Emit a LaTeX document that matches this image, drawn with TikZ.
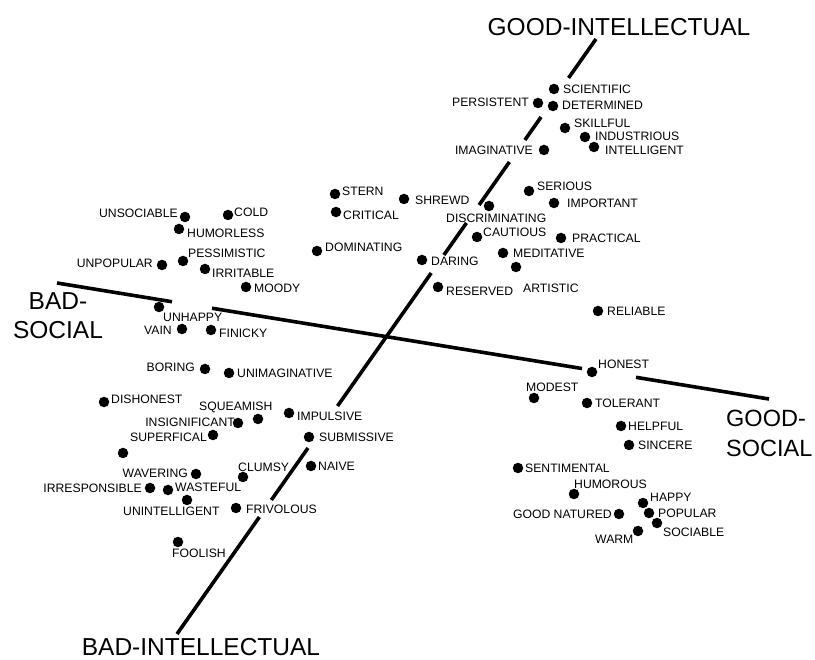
\documentclass[tikz,border=0pt]{standalone}
\usepackage{fontspec}
\setmainfont{Liberation Sans}
\usetikzlibrary{calc}
\begin{document}
\begin{tikzpicture}[x=1pt,y=-1pt,
  dot/.style={circle,fill=black,inner sep=0pt,minimum size=10.5pt},
  lbl/.style={inner sep=0pt,font=\fontsize{12.2}{14}\selectfont},
  big/.style={inner sep=0pt,font=\fontsize{24.5}{29.5}\selectfont},
  axis/.style={line width=3.6pt}]
\useasboundingbox[fill=white] (0,0) rectangle (815,660);
% axes
\coordinate (GI) at (596,39);
\coordinate (BI) at (177,634);
\coordinate (BS) at (57,283);
\coordinate (GS) at (769,399);
\foreach \a/\b in {0/0.0655,0.1311/0.1697,0.2067/0.2790,0.3092/0.3630,0.3933/0.6168,0.6874/0.7748,0.8034/1}
  \draw[axis] ($(GI)!\a!(BI)$) -- ($(GI)!\b!(BI)$);
\foreach \a/\b in {0/0.1615,0.2177/0.7374,0.8132/1}
  \draw[axis] ($(BS)!\a!(GS)$) -- ($(BS)!\b!(GS)$);
% axis labels
\node[big] (gi) at (619,27) {GOOD-INTELLECTUAL};
\node[big] (bi) at (201,647) {BAD-INTELLECTUAL};
\node[big,align=center,anchor=north] (bs) at (58,292) {BAD-\\SOCIAL};
\node[big,font=\fontsize{23.5}{29.5}\selectfont,align=left,anchor=north west] (gs) at (726,410) {GOOD-\\SOCIAL};
% traits
\node[dot] (scientific) at (554,89) {};   \node[lbl,anchor=west] at (563,89) {SCIENTIFIC};
\node[dot] (persistent) at (538,103) {};  \node[lbl,anchor=east] at (529,102) {PERSISTENT};
\node[dot] (determined) at (553,106) {};  \node[lbl,anchor=west] at (562,105) {DETERMINED};
\node[dot] (skillful) at (565,128) {};    \node[lbl,anchor=west] at (574,123) {SKILLFUL};
\node[dot] (industrious) at (585,137) {}; \node[lbl,anchor=west] at (595,136) {INDUSTRIOUS};
\node[dot] (intelligent) at (594,147) {}; \node[lbl,anchor=west] at (605,150) {INTELLIGENT};
\node[dot] (imaginative) at (544,150) {}; \node[lbl,anchor=east] at (533,150) {IMAGINATIVE};
\node[dot] (stern) at (335,194) {};       \node[lbl,anchor=west] at (342,191) {STERN};
\node[dot] (shrewd) at (404,199) {};      \node[lbl,anchor=west] at (415,200) {SHREWD};
\node[dot] (critical) at (336,212) {};    \node[lbl,anchor=west] at (343,215) {CRITICAL};
\node[dot] (discriminating) at (489,206) {}; \node[lbl,anchor=west] at (446,218) {DISCRIMINATING};
\node[dot] (serious) at (529,191) {};     \node[lbl,anchor=west] at (537,186) {SERIOUS};
\node[dot] (important) at (554,203) {};   \node[lbl,anchor=west] at (567,203) {IMPORTANT};
\node[dot] (cautious) at (477,237) {};    \node[lbl,anchor=west] at (483,232) {CAUTIOUS};
\node[dot] (practical) at (561,238) {};   \node[lbl,anchor=west] at (572,238) {PRACTICAL};
\node[dot] (dominating) at (317,251) {};  \node[lbl,anchor=west] at (325,247) {DOMINATING};
\node[dot] (meditative) at (503,253) {};  \node[lbl,anchor=west] at (513,253) {MEDITATIVE};
\node[dot] (daring) at (422,260) {};      \node[lbl,anchor=west] at (431,261) {DARING};
\node[dot] (artistic) at (516,267) {};    \node[lbl,anchor=west] at (523,288) {ARTISTIC};
\node[dot] (reserved) at (438,287) {};    \node[lbl,anchor=west] at (446,291) {RESERVED};
\node[dot] (reliable) at (598,311) {};    \node[lbl,anchor=west] at (607,311) {RELIABLE};
\node[dot] (unsociable) at (185,217) {};  \node[lbl,anchor=east] at (178,213) {UNSOCIABLE};
\node[dot] (cold) at (228,215) {};        \node[lbl,anchor=west] at (234,212) {COLD};
\node[dot] (humorless) at (179,229) {};   \node[lbl,anchor=west] at (187,233) {HUMORLESS};
\node[dot] (unpopular) at (162,265) {};   \node[lbl,anchor=east] at (153,263) {UNPOPULAR};
\node[dot] (pessimistic) at (183,261) {}; \node[lbl,anchor=west] at (188,253) {PESSIMISTIC};
\node[dot] (irritable) at (205,269) {};   \node[lbl,anchor=west] at (212,273) {IRRITABLE};
\node[dot] (moody) at (246,287) {};       \node[lbl,anchor=west] at (254,288) {MOODY};
\node[dot] (unhappy) at (159,307) {};     \node[lbl,anchor=west] at (163,317) {UNHAPPY};
\node[dot] (vain) at (182,329) {};        \node[lbl,anchor=east] at (172,330) {VAIN};
\node[dot] (finicky) at (211,330) {};     \node[lbl,anchor=west] at (219,333) {FINICKY};
\node[dot] (boring) at (205,369) {};      \node[lbl,anchor=east] at (195,367) {BORING};
\node[dot] (unimaginative) at (229,373) {}; \node[lbl,anchor=west] at (237,373) {UNIMAGINATIVE};
\node[dot] (dishonest) at (104,402) {};   \node[lbl,anchor=west] at (111,399) {DISHONEST};
\node[dot] (squeamish) at (258,419) {};   \node[lbl,anchor=west] at (199,407) {SQUEAMISH};
\node[dot] (insignificant) at (238,423) {}; \node[lbl,anchor=east] at (235,422) {INSIGNIFICANT};
\node[dot] (impulsive) at (289,413) {};   \node[lbl,anchor=west] at (297,416) {IMPULSIVE};
\node[dot] (superfical) at (213,435) {};  \node[lbl,anchor=east] at (207,437) {SUPERFICAL};
\node[dot] (submissive) at (309,437) {};  \node[lbl,anchor=west] at (319,437) {SUBMISSIVE};
\node[dot] (unnamed) at (123,453) {};
\node[dot] (naive) at (311,466) {};       \node[lbl,anchor=west] at (318,466) {NAIVE};
\node[dot] (clumsy) at (243,477) {};      \node[lbl,anchor=west] at (238,467) {CLUMSY};
\node[dot] (wavering) at (196,474) {};    \node[lbl,anchor=east] at (188,473) {WAVERING};
\node[dot] (irresponsible) at (150,488) {}; \node[lbl,anchor=east] at (142,488) {IRRESPONSIBLE};
\node[dot] (wasteful) at (168,490) {};    \node[lbl,anchor=west] at (175,487) {WASTEFUL};
\node[dot] (unintelligent) at (187,500) {}; \node[lbl,anchor=west] at (123,511) {UNINTELLIGENT};
\node[dot] (frivolous) at (236,508) {};   \node[lbl,anchor=west] at (246,509) {FRIVOLOUS};
\node[dot] (foolish) at (178,542) {};     \node[lbl,anchor=west] at (172,553) {FOOLISH};
\node[dot] (honest) at (592,372) {};      \node[lbl,anchor=west] at (598,364) {HONEST};
\node[dot] (modest) at (534,398) {};      \node[lbl,anchor=west] at (526,387) {MODEST};
\node[dot] (tolerant) at (587,403) {};    \node[lbl,anchor=west] at (595,403) {TOLERANT};
\node[dot] (helpful) at (621,426) {};     \node[lbl,anchor=west] at (628,426) {HELPFUL};
\node[dot] (sincere) at (629,445) {};     \node[lbl,anchor=west] at (638,445) {SINCERE};
\node[dot] (sentimental) at (518,468) {}; \node[lbl,anchor=west] at (525,468) {SENTIMENTAL};
\node[dot] (humorous) at (574,494) {};    \node[lbl,anchor=west] at (574,484) {HUMOROUS};
\node[dot] (happy) at (643,503) {};       \node[lbl,anchor=west] at (650,497) {HAPPY};
\node[dot] (popular) at (649,513) {};     \node[lbl,anchor=west] at (658,513) {POPULAR};
\node[dot] (goodnatured) at (619,514) {}; \node[lbl,anchor=east] at (612,514) {GOOD NATURED};
\node[dot] (sociable) at (657,523) {};    \node[lbl,anchor=west] at (663,532) {SOCIABLE};
\node[dot] (warm) at (638,531) {};        \node[lbl,anchor=west] at (595,539) {WARM};
\end{tikzpicture}
\end{document}
